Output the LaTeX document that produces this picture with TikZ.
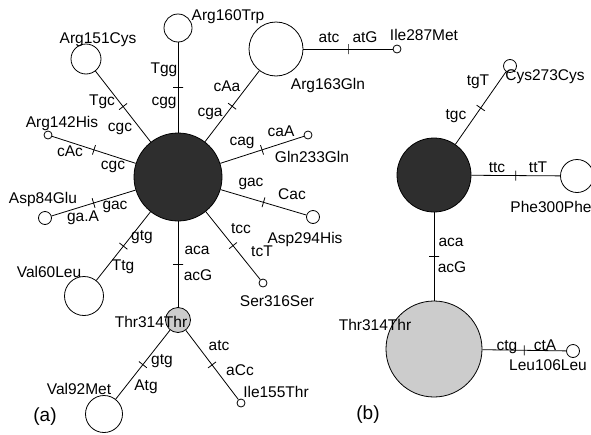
\documentclass[tikz,border=0pt]{standalone}
\usepackage{fontspec}
\setmainfont{Liberation Sans}
\tikzset{
  site/.style={circle, draw, line width=0.8pt, inner sep=0pt, fill=white},
  hub/.style={site, fill=black!82},
  anc/.style={site, fill=black!20},
  cut/.style={sloped, draw, line width=0.8pt, inner sep=0pt, minimum width=0pt, minimum height=10pt},
  lab/.style={inner sep=0pt, text height=11.2pt, text depth=3.3pt, font=\fontsize{15.5}{18}\selectfont},
}
\begin{document}
\begin{tikzpicture}[x=1pt, y=-1pt, line width=0.8pt]
                \useasboundingbox (0,0) rectangle (591,434);
                % (a) haplotypes
                \node[hub, minimum size=88] (hubA) at (178,177) {};
                \node[site, minimum size=28] (arg160) at (178,28) {};
                \node[site, minimum size=30] (arg151) at (86,59) {};
                \node[site, minimum size=8] (arg142) at (48,135) {};
                \node[site, minimum size=13] (asp84) at (45,218) {};
                \node[site, minimum size=39] (val60) at (84,296) {};
                \node[site, minimum size=54] (arg163) at (276,49) {};
                \node[site, minimum size=8] (ile287) at (397,49) {};
                \node[site, minimum size=8] (gln233) at (308,135) {};
                \node[site, minimum size=13] (asp294) at (313,217) {};
                \node[site, minimum size=8] (ser316) at (263,283) {};
                \node[anc, minimum size=25] (thrA) at (178,320) {};
                \node[site, minimum size=37] (val92) at (104,414) {};
                \node[site, minimum size=8] (ile155) at (241,403) {};
                % (a) mutations
                \draw (hubA) -- (arg160) node[cut, midway] {};
                \draw (hubA) -- (arg151) node[cut, midway] {};
                \draw (hubA) -- (arg142) node[cut, midway] {};
                \draw (hubA) -- (asp84) node[cut, midway] {};
                \draw (hubA) -- (val60) node[cut, midway] {};
                \draw (hubA) -- (arg163) node[cut, midway] {};
                \draw (arg163) -- (ile287) node[cut, midway] {};
                \draw (hubA) -- (gln233) node[cut, midway] {};
                \draw (hubA) -- (asp294) node[cut, midway] {};
                \draw (hubA) -- (ser316) node[cut, midway] {};
                \draw (hubA) -- (thrA) node[cut, midway] {};
                \draw (thrA) -- (val92) node[cut, midway] {};
                \draw (thrA) -- (ile155) node[cut, midway] {};
                % (a) codons
                \node[lab] (arg160m) at (164,70) {Tgg};
                \node[lab] (arg160w) at (164,102) {cgg};
                \node[lab] (arg151m) at (102,102) {Tgc};
                \node[lab] (arg151w) at (120,128) {cgc};
                \node[lab] (arg142m) at (70,153) {cAc};
                \node[lab] (arg142w) at (113,166) {cgc};
                \node[lab] (asp84m) at (83,218) {ga.A};
                \node[lab] (asp84w) at (115,206) {gac};
                \node[lab] (val60w) at (142,237) {gtg};
                \node[lab] (val60m) at (123,267) {Ttg};
                \node[lab] (arg163m) at (227,88) {cAa};
                \node[lab] (arg163w) at (210,113) {cga};
                \node[lab] (ile287w) at (329,39) {atc};
                \node[lab] (ile287m) at (365,39) {atG};
                \node[lab] (gln233w) at (242,142) {cag};
                \node[lab] (gln233m) at (281,133) {caA};
                \node[lab] (asp294w) at (251,183) {gac};
                \node[lab] (asp294m) at (292,196) {Cac};
                \node[lab] (ser316w) at (241,230) {tcc};
                \node[lab] (ser316m) at (262,253) {tcT};
                \node[lab] (thrAw) at (197,251) {aca};
                \node[lab] (thrAm) at (198,277) {acG};
                \node[lab] (val92w) at (162,361) {gtg};
                \node[lab] (val92m) at (146,387) {Atg};
                \node[lab] (ile155w) at (219,347) {atc};
                \node[lab] (ile155m) at (240,372) {aCc};
                % (a) names
                \node[lab] (arg160t) at (228,16.5) {Arg160Trp};
                \node[lab] (arg151t) at (98,39.5) {Arg151Cys};
                \node[lab] (arg142t) at (62,123.5) {Arg142His};
                \node[lab] (asp84t) at (43,199.5) {Asp84Glu};
                \node[lab] (val60t) at (49,273.5) {Val60Leu};
                \node[lab] (arg163t) at (328,85.5) {Arg163Gln};
                \node[lab] (ile287t) at (424,36.5) {Ile287Met};
                \node[lab] (gln233t) at (312,158.5) {Gln233Gln};
                \node[lab] (asp294t) at (305,239.5) {Asp294His};
                \node[lab] (ser316t) at (277,302.5) {Ser316Ser};
                \node[lab] (thrAt) at (151,323.5) {Thr314Thr};
                \node[lab] (val92t) at (79,390.5) {Val92Met};
                \node[lab] (ile155t) at (276,393.5) {Ile155Thr};
                \node[lab, font=\fontsize{19}{22}\selectfont] (panelA) at (45,418) {(a)};
                % (b) haplotypes
                \node[hub, minimum size=74] (hubB) at (434,175) {};
                \node[site, minimum size=13] (cys273) at (510,66) {};
                \node[site, minimum size=33] (phe300) at (577,176) {};
                \node[anc, minimum size=96] (thrB) at (434,349) {};
                \node[site, minimum size=13] (leu106) at (573,351) {};
                % (b) mutations
                \draw (hubB) -- (cys273) node[cut, midway] {};
                \draw (hubB) -- (phe300) node[cut, midway] {};
                \draw (hubB) -- (thrB) node[cut, midway] {};
                \draw (thrB) -- (leu106) node[cut, midway] {};
                % (b) codons
                \node[lab] (cys273m) at (478,82) {tgT};
                \node[lab] (cys273w) at (456,116) {tgc};
                \node[lab] (phe300w) at (497,169) {ttc};
                \node[lab] (phe300m) at (538,169) {ttT};
                \node[lab] (thrBw) at (451,243) {aca};
                \node[lab] (thrBm) at (452,269) {acG};
                \node[lab] (leu106w) at (507,347) {ctg};
                \node[lab] (leu106m) at (545,347) {ctA};
                % (b) names
                \node[lab] (cys273t) at (545,76.5) {Cys273Cys};
                \node[lab] (phe300t) at (551,208.5) {Phe300Phe};
                \node[lab] (thrBt) at (375,326.5) {Thr314Thr};
                \node[lab] (leu106t) at (548,366.5) {Leu106Leu};
                \node[lab, font=\fontsize{19}{22}\selectfont] (panelB) at (368,416) {(b)};
\end{tikzpicture}
\end{document}
